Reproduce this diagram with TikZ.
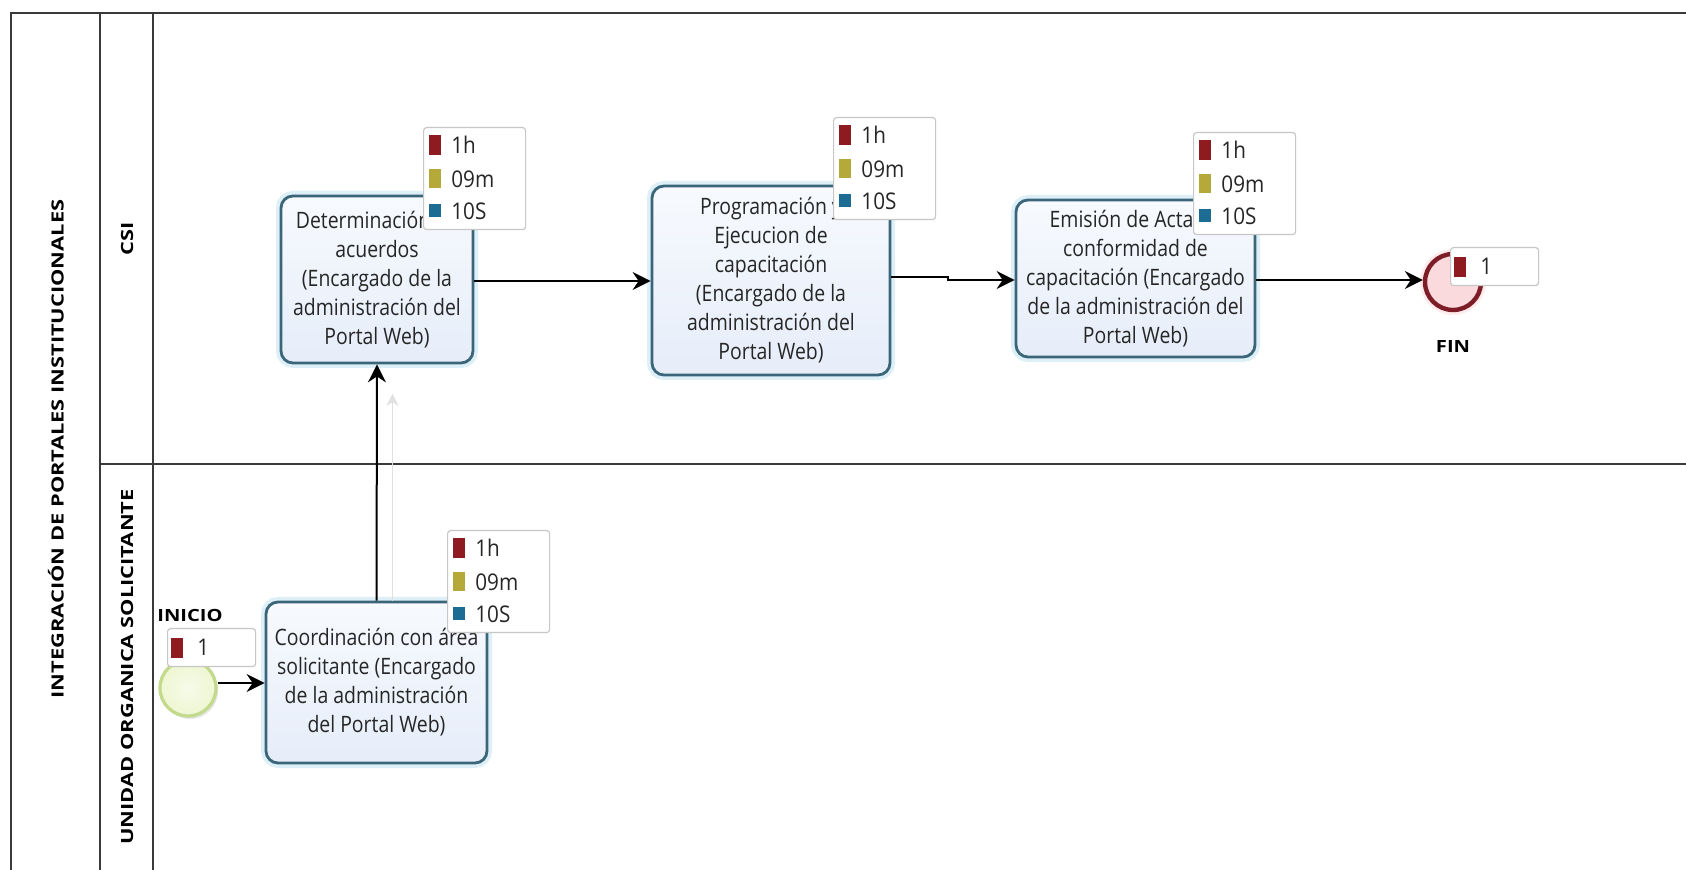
\documentclass[tikz,border=0pt]{standalone}
\usepackage{fontspec}
\usepackage{graphicx}
\setmainfont{Open Sans}
\newfontfamily\taskfont{Open Sans}[FakeStretch=0.86]
\newfontfamily\legendfont{Open Sans}[FakeStretch=0.9]
\usetikzlibrary{arrows.meta,calc,shadows}

\definecolor{laneline}{HTML}{3A3A3A}
\definecolor{taskedge}{HTML}{3B6679}
\definecolor{tasktop}{HTML}{F7FAFE}
\definecolor{taskbot}{HTML}{E6EDF9}
\definecolor{glow}{HTML}{DDEFF7}
\definecolor{tred}{HTML}{8E1B1F}
\definecolor{tyellow}{HTML}{B5A93A}
\definecolor{tblue}{HTML}{1D6C94}
\definecolor{startedge}{HTML}{C3D98C}
\definecolor{startfill}{HTML}{EEF6D2}
\definecolor{endedge}{HTML}{7C1D28}
\definecolor{endfill}{HTML}{FADADD}

\tikzset{
  poolline/.style={draw=laneline, line width=1pt},
  hdr/.style={font=\fontsize{8.4}{10}\selectfont\bfseries, inner sep=0pt},
  task/.style={draw=taskedge, line width=1.4pt, rounded corners=6pt,
    top color=tasktop, bottom color=taskbot, align=center, inner sep=0pt,
    font=\taskfont\fontsize{11.3}{14.5}\selectfont, text=black!85,
    preaction={draw=glow, line width=5pt}},
  timebox/.style={draw=black!22, fill=white, rounded corners=1.5pt,
    line width=0.6pt, minimum width=51pt, minimum height=51pt, inner sep=0pt},
  countbox/.style={draw=black!22, fill=white, rounded corners=1.5pt,
    line width=0.6pt, minimum width=44pt, minimum height=19pt, inner sep=0pt},
  tsq/.style={inner sep=0pt, minimum width=6pt, minimum height=#1},
  ttext/.style={anchor=west, inner sep=0pt, font=\legendfont\fontsize{11.5}{13}\selectfont, text=black!85},
  flow/.style={draw=black, line width=1pt, -{Stealth[length=9pt,width=9pt,inset=3pt]}},
}

% timing legend: name, top-left x, top-left y
\newcommand\timingbox[3]{%
  \node[timebox, anchor=north west] (#1) at (#2,#3) {};
  \node[tsq=10pt,  fill=tred]    (#1-ra) at ($(#1.north west)+(12,18)$) {};
  \node[tsq=9.5pt, fill=tyellow] (#1-ya) at ($(#1.north west)+(12,52)$) {};
  \node[tsq=6.5pt, fill=tblue]   (#1-ba) at ($(#1.north west)+(12,84)$) {};
  \node[ttext] (#1-rt) at ($(#1.north west)+(28,18)$) {1h};
  \node[ttext] (#1-yt) at ($(#1.north west)+(28,52)$) {09m};
  \node[ttext] (#1-bt) at ($(#1.north west)+(28,84)$) {10S};
}

% instance counter: name, top-left x, top-left y
\newcommand\countlabel[3]{%
  \node[countbox, anchor=north west] (#1) at (#2,#3) {};
  \node[tsq=10pt, fill=tred] (#1-sq) at ($(#1.west)+(10,0)$) {};
  \node[ttext] (#1-n) at ($(#1.west)+(30,0)$) {1};
}

\begin{document}
\begin{tikzpicture}[x=0.5pt, y=-0.5pt]
  \useasboundingbox (0,0) rectangle (1686,870);
  \fill[white] (0,0) rectangle (1686,870);

  % pool and lanes
  \draw[poolline] (11,870) -- (11,13) -- (1686,13);
  \draw[poolline] (100,13) -- (100,870);
  \draw[poolline] (153,13) -- (153,870);
  \draw[poolline] (100,464) -- (1686,464);

  \node[hdr, rotate=90] (pool) at (56,449)
    {\scalebox{1.3}[1]{INTEGRACIÓN DE PORTALES INSTITUCIONALES}};
  \node[hdr, rotate=90] (laneA) at (127,239) {\scalebox{1.3}[1]{CSI}};
  \node[hdr, rotate=90] (laneB) at (127,667)
    {\scalebox{1.3}[1]{UNIDAD ORGANICA SOLICITANTE}};

  % tasks
  \node[task, minimum width=96pt, minimum height=83.5pt] (T1) at (377,279.5)
    {Determinación de\\acuerdos\\(Encargado de la\\administración del\\Portal Web)};
  \node[task, minimum width=119pt, minimum height=94.5pt] (T2) at (771,280.5)
    {Programación y\\Ejecucion de\\capacitación\\(Encargado de la\\administración del\\Portal Web)};
  \node[task, minimum width=119.5pt, minimum height=78.5pt] (T3) at (1135.5,278.5)
    {Emisión de Acta de\\conformidad de\\capacitación (Encargado\\de la administración del\\Portal Web)};
  \node[task, minimum width=110.5pt, minimum height=80.5pt] (T0) at (376.5,682.5)
    {Coordinación con área\\solicitante (Encargado\\de la administración\\del Portal Web)};

  % events
  \node[circle, draw=startedge, line width=1.6pt, inner color=white!50!startfill,
        outer color=startfill, minimum size=28pt, inner sep=0pt,
        drop shadow={opacity=0.2, shadow xshift=1pt, shadow yshift=-1.5pt}] (start) at (188,688) {};
  \node[circle, draw=endedge, line width=2.2pt, fill=endfill, minimum size=28pt, inner sep=0pt,
        preaction={draw=red!8, line width=5pt}] (end) at (1453,282) {};

  \node[hdr] (startlabel) at (190,615) {\scalebox{1.2}[1]{INICIO}};
  \node[hdr] (endlabel) at (1453,347) {\scalebox{1.2}[1]{FIN}};

  % flows
  \draw[draw=black!12, line width=0.8pt, -{Stealth[length=6pt,width=6pt]}]
    ([xshift=8pt]T0.north) -- ([xshift=8pt]T0.north |- 0,394);
  \draw[flow] (start.east |- 0,683) -- (T0.west |- 0,683);
  \draw[flow] (T0.north) -- (T1.south);
  \draw[flow] (T1.east |- 0,281) -- (T2.west |- 0,281);
  \draw[flow] (T2.east |- 0,277) -- (948,277) -- (948,280) -- (T3.west |- 0,280);
  \draw[flow] (T3.east |- 0,280) -- (end.west |- 0,280);

  % timing legends and counters
  \timingbox{tb1}{423}{127}
  \timingbox{tb2}{833}{117}
  \timingbox{tb3}{1193}{132}
  \timingbox{tb0}{447}{530}
  \countlabel{startcount}{167}{628}
  \countlabel{endcount}{1450}{247}
\end{tikzpicture}
\end{document}
